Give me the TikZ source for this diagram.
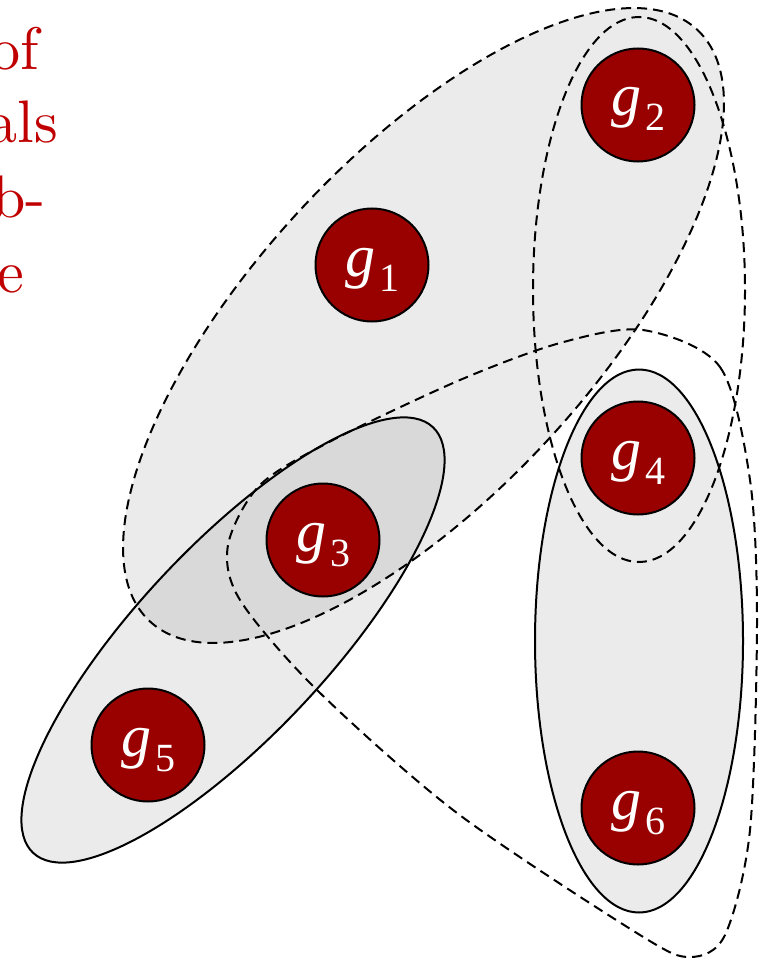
\documentclass[tikz,border=0pt]{standalone}
\usepackage{fontspec}
\newfontfamily\gfont{Liberation Serif}
\newfontfamily\lmten{lmroman10-regular}[Extension=.otf]
\definecolor{nodered}{HTML}{990000}
\definecolor{textred}{HTML}{C00000}
\begin{document}
\begin{tikzpicture}[x=1pt,y=-1pt,
  hyperfill/.style={fill=black, fill opacity=0.08},
  dashedge/.style={draw=black, line width=2pt, dash pattern=on 10pt off 6pt},
  solidedge/.style={draw=black, line width=2pt},
  gnode/.style={circle, draw=black, line width=2pt, fill=nodered, minimum size=113pt, inner sep=0pt, text=white, text height=27pt, text depth=5pt, font=\gfont\fontsize{60}{60}\selectfont},
  redtext/.style={anchor=base east, text=textred, font=\lmten\fontsize{60}{60}\selectfont, inner sep=0pt}]
\useasboundingbox (0,0) rectangle (765,960);
\clip (0,0) rectangle (765,960);
\newcommand{\glab}[1]{{\itshape g}\hspace{4pt}\raisebox{-15pt}{\upshape\fontsize{40}{40}\selectfont #1}}
% fills
\path[hyperfill, rotate around={47.25:(423.5,325.5)}] (423.5,325.5) ellipse [x radius=403, y radius=169];
\path[hyperfill, rotate around={46.8:(233,640)}] (233,640) ellipse [x radius=292, y radius=95];
\path[hyperfill] (639,641) ellipse [x radius=104, y radius=271.5];
% outlines
\path[dashedge, rotate around={47.25:(423.5,325.5)}] (423.5,325.5) ellipse [x radius=403, y radius=169];
\path[dashedge] (639,289.5) ellipse [x radius=106, y radius=272.5];
\path[dashedge] plot[smooth cycle] coordinates {(643,330) (720,367) (750,480) (757,620) (750,830) (725,935) (690,957) (640,935) (457,813) (317,690) (240,600) (228,545) (260,485) (333,440) (460,380) (560,343)};
\path[solidedge, rotate around={46.8:(233,640)}] (233,640) ellipse [x radius=292, y radius=95];
\path[solidedge] (639,641) ellipse [x radius=104, y radius=271.5];
% nodes
\node[gnode] (g1) at (372,265) {\glab{1}};
\node[gnode] (g2) at (638,105) {\glab{2}};
\node[gnode] (g3) at (323,540) {\glab{3}};
\node[gnode] (g4) at (638,458) {\glab{4}};
\node[gnode] (g5) at (148,745) {\glab{5}};
\node[gnode] (g6) at (638,808) {\glab{6}};
% partial text
\node[redtext] (t1) at (39,70) {of};
\node[redtext] (t2) at (58,143) {als};
\node[redtext] (t3) at (46,217) {b-};
\node[redtext] (t4) at (24,292) {e};
\end{tikzpicture}
\end{document}
